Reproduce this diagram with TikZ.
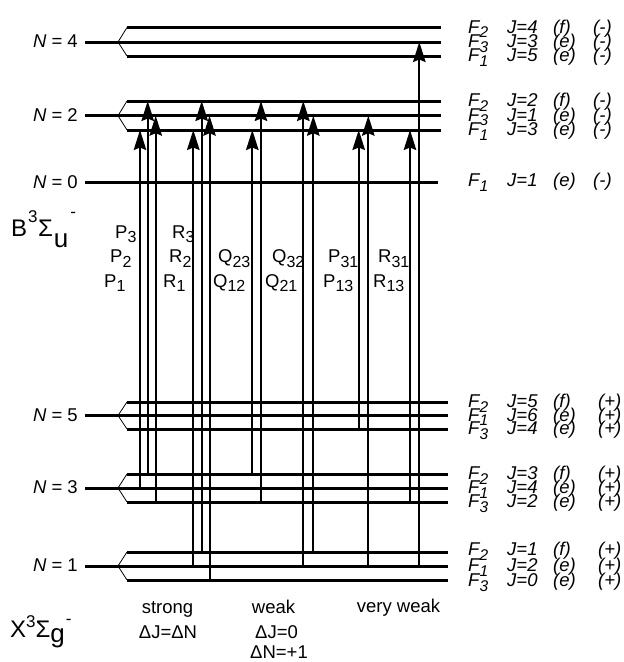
\documentclass[tikz,border=0pt]{standalone}
\usepackage{fontspec}
\setmainfont{Liberation Sans}
\usetikzlibrary{arrows.meta}
\newcommand\lsub[1]{\raisebox{-4.5pt}{\fontsize{16}{16}\selectfont #1}}
\newcommand\fsub[1]{\raisebox{-4.5pt}{\fontsize{15.5}{16}\selectfont #1}}
\newcommand\multiplet[5]{%
  % #1 name, #2 ytop, #3 ymid, #4 ybot, #5 xend
  \coordinate (#1l) at (85,#3);
  \coordinate (#1v) at (118,#3);
  \coordinate (#1ta) at (127,#2); \coordinate (#1tb) at (#5,#2);
  \coordinate (#1ma) at (127,#3); \coordinate (#1mb) at (#5,#3);
  \coordinate (#1ba) at (127,#4); \coordinate (#1bb) at (#5,#4);
  \draw[lev] (#1l) -- (#1ma);
  \draw[chev] (#1ta) -- (#1v) -- (#1ba);
  \draw[lev] (#1ta) -- (#1tb);
  \draw[lev] (#1ma) -- (#1mb);
  \draw[lev] (#1ba) -- (#1bb);
}
\newcommand\rlab[7]{%
  % #1 name, #2 y, #3 F index, #4 J, #5 parity, #6 sign, #7 sign x
  \node[rtxt] (#1f) at (468,#2+5.5) {F\fsub{#3}};
  \node[rtxt] (#1j) at (507,#2+5.5) {J=#4};
  \node[rtxt] (#1p) at (553,#2+5.5) {(#5)};
  \node[rtxt] (#1s) at (#7,#2+5.5) {(#6)};
}
\begin{document}
\begin{tikzpicture}[x=1pt,y=-1pt,
  lev/.style={line width=3pt},
  chev/.style={line width=0.8pt},
  trans/.style={line width=2pt,-{Stealth[length=20pt,width=12.5pt,inset=2.5pt]}},
  txt/.style={font=\fontsize{18.5}{20}\selectfont,inner sep=0pt},
  rtxt/.style={txt,font=\fontsize{18.5}{20}\selectfont\itshape,anchor=base west},
  nlab/.style={txt,anchor=base east},
  tlab/.style={txt,anchor=base west},
  blab/.style={txt,anchor=base},
  state/.style={inner sep=0pt,anchor=base west,font=\fontsize{24}{26}\selectfont}]
\useasboundingbox (0,0) rectangle (624,662);

% ---------- upper state B ----------
\multiplet{Bn4}{27.5}{42}{56}{441}
\multiplet{Bn2}{101}{115.7}{130}{441}
\coordinate (Bn0l) at (85,182.5); \coordinate (Bn0r) at (438,182.5);
\draw[lev] (Bn0l) -- (Bn0r);

% ---------- lower state X ----------
\multiplet{Xn5}{402}{415.5}{429}{448}
\multiplet{Xn3}{474}{488}{502}{448}
\multiplet{Xn1}{552}{566}{580}{448}

% ---------- N labels ----------
\node[nlab] (lN4) at (78,47.5) {\textit{N} = 4};
\node[nlab] (lN2) at (78,121) {\textit{N} = 2};
\node[nlab] (lN0) at (78,188) {\textit{N} = 0};
\node[nlab] (lN5) at (78,421) {\textit{N} = 5};
\node[nlab] (lN3) at (78,493.5) {\textit{N} = 3};
\node[nlab] (lN1) at (78,571.5) {\textit{N} = 1};

% ---------- right labels ----------
\rlab{u4a}{27.5}{2}{4}{f}{-}{593}
\rlab{u4b}{42}{3}{3}{e}{-}{593}
\rlab{u4c}{56}{1}{5}{e}{-}{593}
\rlab{u2a}{101}{2}{2}{f}{-}{593}
\rlab{u2b}{115.7}{3}{1}{e}{-}{593}
\rlab{u2c}{130}{1}{3}{e}{-}{593}
\rlab{u0a}{181}{1}{1}{e}{-}{593}
\rlab{l5a}{402}{2}{5}{f}{+}{598}
\rlab{l5b}{415.5}{1}{6}{e}{+}{598}
\rlab{l5c}{429}{3}{4}{e}{+}{598}
\rlab{l3a}{474}{2}{3}{f}{+}{598}
\rlab{l3b}{488}{1}{4}{e}{+}{598}
\rlab{l3c}{502}{3}{2}{e}{+}{598}
\rlab{l1a}{550}{2}{1}{f}{+}{598}
\rlab{l1b}{566}{1}{2}{e}{+}{598}
\rlab{l1c}{581}{3}{0}{e}{+}{598}

% ---------- transitions ----------
\foreach \n/\x/\ya/\yb in {
  t1/140/488/130, t2/147.7/474/101, t3/155.7/502/115.7,
  t4/193.3/566/130, t5/201.7/552/101, t6/209.5/580/115.7,
  t7/252.3/474/130, t8/261/502/101,
  t9/303.3/566/101, t10/313.3/552/115.7,
  t11/358.7/429/130, t12/368.3/566/115.7,
  t13/410/502/130, t14/419.3/566/42}{
  \coordinate (\n s) at (\x,\ya);
  \coordinate (\n e) at (\x,\yb);
  \draw[trans] (\n s) -- (\n e);
}

% ---------- transition labels ----------
\node[tlab] (P3) at (115,238) {P\lsub{3}};
\node[tlab] (P2) at (110,262.5) {P\lsub{2}};
\node[tlab] (P1) at (104,287) {P\lsub{1}};
\node[tlab] (R3) at (172,238) {R\lsub{3}};
\node[tlab] (R2) at (169,262.5) {R\lsub{2}};
\node[tlab] (R1) at (163,287) {R\lsub{1}};
\node[tlab] (Q23) at (218,262.5) {Q\lsub{23}};
\node[tlab] (Q12) at (213,287) {Q\lsub{12}};
\node[tlab] (Q32) at (272,262.5) {Q\lsub{32}};
\node[tlab] (Q21) at (265,287) {Q\lsub{21}};
\node[tlab] (P31) at (328,262.5) {P\lsub{31}};
\node[tlab] (P13) at (323,287) {P\lsub{13}};
\node[tlab] (R31) at (378,262.5) {R\lsub{31}};
\node[tlab] (R13) at (373,287) {R\lsub{13}};

% ---------- state labels ----------
\node[state] (Bst) at (11,236.5) {B\kern1pt\raisebox{14pt}{\fontsize{17}{17}\selectfont 3}\kern0.5ptΣ\kern1pt\raisebox{-11pt}{\fontsize{26}{26}\selectfont u}\kern2pt\raisebox{19pt}{\fontsize{17}{17}\selectfont -}};
\node[state] (Xst) at (10,637) {X\raisebox{10pt}{\fontsize{17}{17}\selectfont 3}Σ\raisebox{-5pt}{\fontsize{26}{26}\selectfont g}\kern1pt\raisebox{13pt}{\fontsize{17}{17}\selectfont -}};

% ---------- bottom labels ----------
\node[blab] (strong) at (167.5,613) {strong};
\node[blab] (dJN) at (168,638) {ΔJ=ΔN};
\node[blab] (weak) at (273.5,613) {weak};
\node[blab] (dJ0) at (276.5,638) {ΔJ=0};
\node[blab] (dN1) at (279,658) {ΔN=+1};
\node[blab] (vweak) at (398.5,612) {very weak};
\end{tikzpicture}
\end{document}
